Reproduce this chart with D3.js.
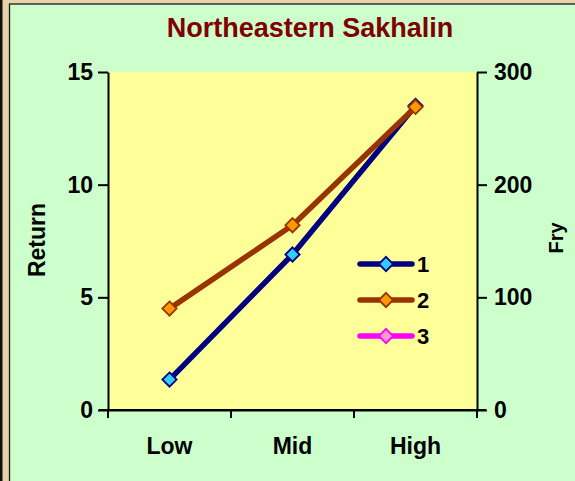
<!DOCTYPE html>
<html><head><meta charset="utf-8">
<script src="https://cdn.jsdelivr.net/npm/d3@7"></script>
<style>html,body{margin:0;padding:0;background:#e9d2aa;overflow:hidden}</style>
</head><body>
<script>
const categories = ["Low", "Mid", "High"];
const returnValues = [1.35, 6.9, 13.5];     // series 1, left axis (Return)
const fryValues = [90, 164, 269];           // series 2, right axis (Fry)
const series3Values = [];                   // series 3, legend only
const leftTicks = [0, 5, 10, 15];
const rightTicks = [0, 100, 200, 300];
const legendLabels = ["1", "2", "3"];

const W = 575, H = 481;
const font = "'Liberation Sans', Arial, sans-serif";
const svg = d3.select("body").append("svg").attr("width", W).attr("height", H);

// frame
svg.append("rect").attr("x", 0).attr("y", 0).attr("width", W).attr("height", H).attr("fill", "#e9d2aa");
svg.append("rect").attr("x", 0).attr("y", 0).attr("width", 2.5).attr("height", H).attr("fill", "#111");
svg.append("rect").attr("x", 9.5).attr("y", 4).attr("width", W).attr("height", H).attr("fill", "#ccffcc")
  .attr("stroke", "#1a1a1a").attr("stroke-width", 1.3);

const m = {l: 108, r: 477, t: 72, b: 410};
svg.append("rect").attr("x", m.l).attr("y", m.t).attr("width", m.r - m.l).attr("height", m.b - m.t).attr("fill", "#ffff99");

const x = d3.scaleBand().domain(categories).range([m.l, m.r]);
const yL = d3.scaleLinear().domain([0, 15]).range([m.b, m.t]);
const yR = d3.scaleLinear().domain([0, 300]).range([m.b, m.t]);

function styleAxis(g) {
  g.selectAll("path").attr("stroke", "#000").attr("stroke-width", 2);
  g.selectAll("line").attr("stroke", "#000").attr("stroke-width", 2);
  g.selectAll("text").attr("font-family", font).attr("font-weight", "bold").attr("font-size", 23).attr("fill", "#000");
}

const gL = svg.append("g").attr("transform", `translate(${m.l},0)`)
  .call(d3.axisLeft(yL).tickValues(leftTicks).tickSize(10).tickPadding(5).tickSizeOuter(0));
styleAxis(gL);
const gR = svg.append("g").attr("transform", `translate(${m.r},0)`)
  .call(d3.axisRight(yR).tickValues(rightTicks).tickSize(10).tickPadding(7).tickSizeOuter(0));
styleAxis(gR);
const gB = svg.append("g").attr("transform", `translate(0,${m.b})`)
  .call(d3.axisBottom(x).tickSize(0).tickPadding(28));
styleAxis(gB);
gB.selectAll("text").attr("dy", "0.71em");
// category boundary ticks
const bounds = categories.map(c => x(c)).concat([m.r]);
svg.append("g").selectAll("line").data(bounds).join("line")
  .attr("x1", d => d).attr("x2", d => d).attr("y1", m.b).attr("y2", m.b + 8)
  .attr("stroke", "#000").attr("stroke-width", 2);
svg.append("line").attr("x1", m.l - 9).attr("x2", m.r + 9).attr("y1", m.b).attr("y2", m.b).attr("stroke", "#000").attr("stroke-width", 2);

// title and axis titles
svg.append("text").attr("x", 310).attr("y", 37).attr("text-anchor", "middle")
  .attr("font-family", font).attr("font-weight", "bold").attr("font-size", 27).attr("fill", "#800000")
  .text("Northeastern Sakhalin");
svg.append("text").attr("transform", "translate(45,240) rotate(-90)").attr("text-anchor", "middle")
  .attr("font-family", font).attr("font-weight", "bold").attr("font-size", 23).text("Return");
svg.append("text").attr("transform", "translate(563,238) rotate(-90)").attr("text-anchor", "middle")
  .attr("font-family", font).attr("font-weight", "bold").attr("font-size", 20).text("Fry");

const cx = c => x(c) + x.bandwidth() / 2;
const diamond = d3.symbol().type(d3.symbolDiamond2).size(130);

const series = [
  {vals: fryValues, y: yR, line: "#993300", fill: "#ff9900"},
  {vals: returnValues, y: yL, line: "#000080", fill: "#33ccff"},
  {vals: series3Values, y: yL, line: "#ff00ff", fill: "#ff99cc"}
];
const order = [series[1], series[0]];
order.forEach(s => {
  const pts = s.vals.map((v, i) => [cx(categories[i]), s.y(v)]);
  svg.append("path").attr("d", d3.line()(pts)).attr("fill", "none")
    .attr("stroke", s.line).attr("stroke-width", 5.5).attr("stroke-linejoin", "round");
});
order.forEach(s => {
  s.vals.forEach((v, i) => {
    svg.append("path").attr("d", diamond())
      .attr("transform", `translate(${cx(categories[i])},${s.y(v)})`)
      .attr("fill", s.fill).attr("stroke", s.line).attr("stroke-width", 1.8);
  });
});

// legend
const legendSeries = [series[1], series[0], series[2]];
const lg = svg.append("g");
legendSeries.forEach((s, i) => {
  const yy = 264 + i * 36;
  lg.append("line").attr("x1", 360).attr("x2", 412).attr("y1", yy).attr("y2", yy)
    .attr("stroke", s.line).attr("stroke-width", 5.5).attr("stroke-linecap", "round");
  lg.append("path").attr("d", diamond()).attr("transform", `translate(386,${yy})`)
    .attr("fill", s.fill).attr("stroke", s.line).attr("stroke-width", 1.8);
  lg.append("text").attr("x", 417).attr("y", yy + 8).attr("font-family", font).attr("font-weight", "bold")
    .attr("font-size", 22).text(legendLabels[i]);
});
</script>
</body></html>
